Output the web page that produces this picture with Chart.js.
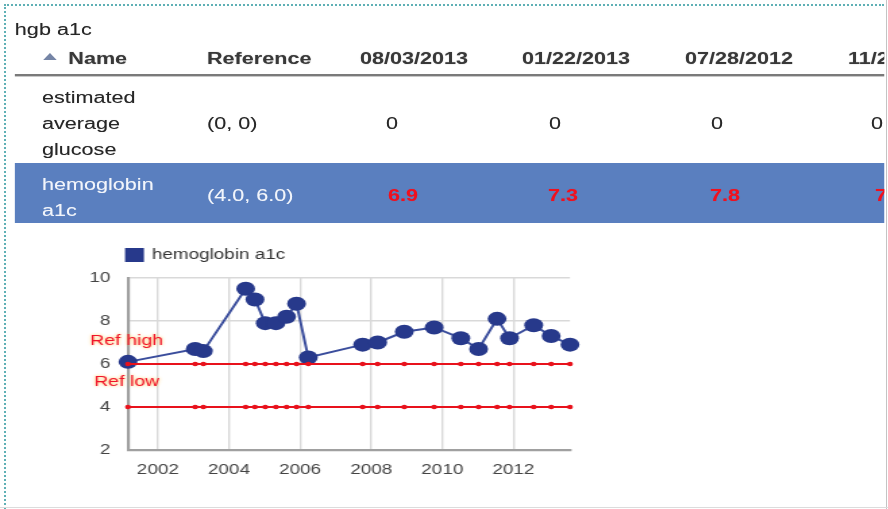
<!DOCTYPE html>
<html>
<head>
<meta charset="utf-8">
<script src="https://cdn.jsdelivr.net/npm/chart.js@4.4.0/dist/chart.umd.min.js"></script>
<style>
  html, body { margin:0; padding:0; background:#fff; }
  body { width:888px; height:509px; position:relative; overflow:hidden; font-family: Arial, "Liberation Sans", sans-serif; }
  .dotTop { position:absolute; left:4px; top:4px; width:880px; height:0; border-top:2px dotted #5fb0b5; }
  .dotLeft { position:absolute; left:4px; top:4px; width:0; height:505px; border-left:2px dotted #5fb0b5; }
  .rightLine { position:absolute; left:886px; top:0; width:0; height:509px; border-left:1.5px solid #c4c4c4; }
  .bottomLine { position:absolute; left:0; top:507px; width:888px; height:0; border-top:1px solid #dcdcdc; }
  #stage { position:absolute; left:0; top:0; width:655px; height:509px; transform:scaleX(1.35); transform-origin:0 0; overflow:hidden; }
  .t { position:absolute; white-space:nowrap; line-height:16px; font-size:16px; color:#262626; text-shadow:0 0 0.6px rgba(0,0,0,0.35); }
  .h { font-weight:bold; color:#383838; text-shadow:0 0 1px rgba(0,0,0,0.35); }
  .w { color:#f2f5fb; text-shadow:0 0 0.6px rgba(255,255,255,0.4); }
  .r { font-weight:bold; color:#f0101e; text-shadow:0 0 0.6px rgba(240,16,30,0.5); }
  #chart { position:absolute; left:55px; top:238px; }
</style>
</head>
<body>
<div class="dotTop"></div>
<div class="dotLeft"></div>
<div class="rightLine"></div>
<div class="bottomLine"></div>
<div id="stage"></div>
<script>
// ---------- data ----------
const tableTitle = 'hgb a1c';
const headerName = 'Name';
const headerRef = 'Reference';
const columnDates = ['08/03/2013', '01/22/2013', '07/28/2012', '11/21/2011'];
const rowNames = ['estimated average glucose', 'hemoglobin a1c'];
const rowRefs = ['(0, 0)', '(4.0, 6.0)'];
const glucoseValues = ['0', '0', '0', '0'];
const a1cValues = ['6.9', '7.3', '7.8', '7.2'];

const seriesLabel = 'hemoglobin a1c';
const years = [2001.16, 2003.05, 2003.28, 2004.47, 2004.73, 2005.02, 2005.32, 2005.62, 2005.90, 2006.23,
               2007.76, 2008.18, 2008.93, 2009.77, 2010.52, 2011.02, 2011.54, 2011.89, 2012.57, 2013.06, 2013.59];
const hba1c = [6.1, 6.7, 6.6, 9.5, 9.0, 7.9, 7.9, 8.2, 8.8, 6.3,
               6.9, 7.0, 7.5, 7.7, 7.2, 6.7, 8.1, 7.2, 7.8, 7.3, 6.9];
const refHigh = [6.0, 6.0, 6.0, 6.0, 6.0, 6.0, 6.0, 6.0, 6.0, 6.0,
                 6.0, 6.0, 6.0, 6.0, 6.0, 6.0, 6.0, 6.0, 6.0, 6.0, 6.0];
const refLow = [4.0, 4.0, 4.0, 4.0, 4.0, 4.0, 4.0, 4.0, 4.0, 4.0,
                4.0, 4.0, 4.0, 4.0, 4.0, 4.0, 4.0, 4.0, 4.0, 4.0, 4.0];
const yearTicks = [2002, 2004, 2006, 2008, 2010, 2012];
const valueTicks = [2, 4, 6, 8, 10];
const refLabels = ['Ref high', 'Ref low'];

// ---------- table (in unscaled coordinates; stage is stretched horizontally) ----------
const stage = document.getElementById('stage');
function put(txt, x, baseline, cls) {
  const d = document.createElement('div');
  d.className = 't ' + (cls || '');
  d.textContent = txt;
  d.style.left = x + 'px';
  d.style.top = (baseline - 13) + 'px';
  stage.appendChild(d);
  return d;
}
function box(x, y, w, h, css) {
  const d = document.createElement('div');
  d.style.position = 'absolute';
  d.style.left = x + 'px'; d.style.top = y + 'px';
  d.style.width = w + 'px'; d.style.height = h + 'px';
  Object.assign(d.style, css);
  stage.appendChild(d);
  return d;
}
put(tableTitle, 11, 34.5);
// sort triangle
box(31.6, 53, 0, 0, {borderLeft:'5.4px solid transparent', borderRight:'5.4px solid transparent', borderBottom:'7px solid #7585a6'});
put(headerName, 50.6, 63.5, 'h');
put(headerRef, 153.3, 63.5, 'h');
const dateX = [266.7, 386.7, 507.4, 628.1];
columnDates.forEach((d, i) => put(d, dateX[i], 63.5, 'h'));
box(11.1, 74, 660, 1.5, {background:'#7a7a7a'});
box(11.1, 76.2, 660, 1, {background:'#c8c8c8'});
// row 1
const nameX = 31.1;
const row1Words = rowNames[0].split(' ');
row1Words.forEach((w, i) => put(w, nameX, 102.5 + i * 26));
put(rowRefs[0], 153.3, 128.5);
const valX = [286, 406.7, 526.7, 645.2];
glucoseValues.forEach((v, i) => put(v, valX[i], 128.5));
// row 2 (highlighted)
box(11.1, 163, 660, 60, {background:'#5a7fbf'});
const row2Words = rowNames[1].split(' ');
row2Words.forEach((w, i) => put(w, nameX, 189.5 + i * 26, 'w'));
put(rowRefs[1], 153.3, 201, 'w');
const redX = [287.4, 405.9, 525.9, 648.1];
a1cValues.forEach((v, i) => put(v, redX[i], 201, 'r'));

// ---------- chart ----------
const canvas = document.createElement('canvas');
canvas.id = 'chart';
canvas.width = 390; canvas.height = 250;
stage.appendChild(canvas);

const navy = '#27398b';
const red = '#e8121c';

const refLabelPlugin = {
  id: 'refLabels',
  afterDatasetsDraw(chart) {
    const ctx = chart.ctx;
    const xs = chart.scales.x, ys = chart.scales.y;
    const y6 = ys.getPixelForValue(refHigh[0]);
    ctx.save();
    ctx.font = '14.5px Arial, "Liberation Sans", sans-serif';
    ctx.fillStyle = '#f0142c';
    ctx.textAlign = 'center';
    ctx.textBaseline = 'alphabetic';
    ctx.shadowColor = 'rgba(255,190,70,0.95)';
    ctx.shadowBlur = 3;
    ctx.fillText(refLabels[0], xs.left - 1, y6 - 19);
    ctx.fillText(refLabels[1], xs.left - 1, y6 + 22);
    ctx.restore();
  }
};
const legendPlugin = {
  id: 'simpleLegend',
  afterDraw(chart) {
    const ds = chart.data.datasets[2];
    const ctx = chart.ctx;
    ctx.save();
    ctx.fillStyle = ds.pointBackgroundColor;
    ctx.fillRect(37.6, 10, 14, 14);
    ctx.font = '14px Arial, "Liberation Sans", sans-serif';
    ctx.fillStyle = '#333';
    ctx.textBaseline = 'middle';
    ctx.textAlign = 'left';
    ctx.fillText(ds.label, 57.4, 17.5);
    ctx.restore();
  }
};

const tickFont = { family: 'Arial, "Liberation Sans", sans-serif', size: 14 };
new Chart(canvas.getContext('2d'), {
  type: 'line',
  data: {
    datasets: [
      { label: refLabels[0], data: years.map((x, i) => ({ x: x, y: refHigh[i] })),
        borderColor: red, backgroundColor: red, pointBackgroundColor: red, pointBorderColor: red,
        borderWidth: 2, pointRadius: 2.2, pointBorderWidth: 0, clip: false },
      { label: refLabels[1], data: years.map((x, i) => ({ x: x, y: refLow[i] })),
        borderColor: red, backgroundColor: red, pointBackgroundColor: red, pointBorderColor: red,
        borderWidth: 2, pointRadius: 2.2, pointBorderWidth: 0, clip: false },
      { label: seriesLabel, data: years.map((x, i) => ({ x: x, y: hba1c[i] })),
        borderColor: '#3a4d9c', backgroundColor: navy, pointBackgroundColor: navy, pointBorderColor: navy,
        borderWidth: 2, pointRadius: 7, pointBorderWidth: 0, clip: false }
    ]
  },
  options: {
    responsive: false,
    animation: false,
    events: [],
    layout: { padding: { top: 40, right: 22.8, left: 0, bottom: 0 } },
    plugins: { legend: { display: false }, tooltip: { enabled: false } },
    scales: {
      x: {
        type: 'linear',
        min: years[0], max: years[years.length - 1],
        afterBuildTicks: s => { s.ticks = yearTicks.map(v => ({ value: v })); },
        afterFit: s => { s.height = 38; },
        grid: { color: '#d9d9d9', lineWidth: 1.4, drawTicks: false },
        border: { color: '#a0a0a0', width: 2.2 },
        ticks: { padding: 12, color: '#444', font: tickFont, autoSkip: false, maxRotation: 0, callback: v => String(v) }
      },
      y: {
        min: valueTicks[0], max: valueTicks[valueTicks.length - 1],
        afterBuildTicks: s => { s.ticks = valueTicks.map(v => ({ value: v })); },
        afterFit: s => { s.width = 39.8; },
        grid: { color: '#d9d9d9', lineWidth: 1.4, drawTicks: false },
        border: { color: '#a0a0a0', width: 2.2 },
        ticks: { padding: 13, color: '#444', font: tickFont, callback: v => String(v) }
      }
    }
  },
  plugins: [refLabelPlugin, legendPlugin]
});
</script>
</body>
</html>
